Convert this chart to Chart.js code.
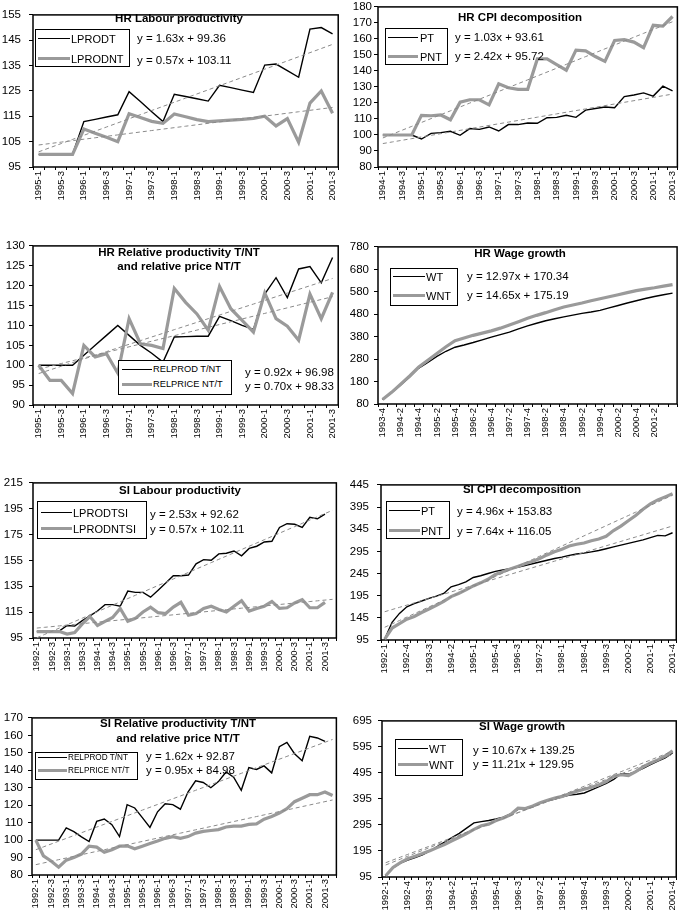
<!DOCTYPE html>
<html><head><meta charset="utf-8">
<script src="https://cdn.jsdelivr.net/npm/chart.js@4.4.1/dist/chart.umd.min.js"></script>
<style>
html,body{margin:0;padding:0;background:#fff;}
#page{position:relative;width:685px;height:917px;overflow:hidden;font-family:"Liberation Sans",Arial,sans-serif;color:#000;}
canvas{position:absolute;}
.t{position:absolute;white-space:nowrap;line-height:1;}
.ttl{font-weight:bold;font-size:11.5px;transform:translate(-50%,-50%);text-align:center;}
.eq{font-size:11.5px;transform:translateY(-50%);}
.lg{position:absolute;border:1.5px solid #000;background:#fff;box-sizing:border-box;}
.ln{position:absolute;height:0;}
</style></head><body><div id="page"></div>
<script>
// ---------- categories ----------
const q1995 = ["1995-1","1995-2","1995-3","1995-4","1996-1","1996-2","1996-3","1996-4","1997-1","1997-2","1997-3","1997-4","1998-1","1998-2","1998-3","1998-4","1999-1","1999-2","1999-3","1999-4","2000-1","2000-2","2000-3","2000-4","2001-1","2001-2","2001-3"];
const q1994 = ["1994-1","1994-2","1994-3","1994-4","1995-1","1995-2","1995-3","1995-4","1996-1","1996-2","1996-3","1996-4","1997-1","1997-2","1997-3","1997-4","1998-1","1998-2","1998-3","1998-4","1999-1","1999-2","1999-3","1999-4","2000-1","2000-2","2000-3","2000-4","2001-1","2001-2","2001-3"];
const q1993 = ["1993-4","1994-1","1994-2","1994-3","1994-4","1995-1","1995-2","1995-3","1995-4","1996-1","1996-2","1996-3","1996-4","1997-1","1997-2","1997-3","1997-4","1998-1","1998-2","1998-3","1998-4","1999-1","1999-2","1999-3","1999-4","2000-1","2000-2","2000-3","2000-4","2001-1","2001-2","2001-3","2001-4"];
const q1992 = ["1992-1","1992-2","1992-3","1992-4","1993-1","1993-2","1993-3","1993-4","1994-1","1994-2","1994-3","1994-4","1995-1","1995-2","1995-3","1995-4","1996-1","1996-2","1996-3","1996-4","1997-1","1997-2","1997-3","1997-4","1998-1","1998-2","1998-3","1998-4","1999-1","1999-2","1999-3","1999-4","2000-1","2000-2","2000-3","2000-4","2001-1","2001-2","2001-3","2001-4"];

// ---------- series ----------
const hrLPRODT  = [100,100,100,100,112.9,113.8,114.7,115.6,124.7,120.8,116.8,112.9,123.7,122.8,121.9,121,127.2,126.3,125.3,124.4,135.2,135.6,133,130.4,149.4,150,147.5];
const hrLPRODNT = [100,100,100,100,110,108.3,106.7,105,116,114.5,113,112.2,115.9,114.8,113.7,112.9,113.2,113.5,113.8,114.2,115,111.2,114.1,104.8,120.2,125,116.2];

const hrPT  = [100,100,100,100,97.5,101,101.5,102.3,99.8,104,103.5,105,102.5,106.5,106.5,107.5,107.3,110.8,111,112.3,111,115.5,116.5,117.5,117,124,125,126.3,124.3,130.5,127.5];
const hrPNT = [100,100,100,100,112.3,112,112.5,109.5,120.5,122,122,118.8,132,129.5,128.5,128.5,147.5,147.5,144,140.5,153,152.5,149,146,159,159.5,158,154.5,168.5,168,174];

const hrRELPROD  = [100,100,100,100,102.5,105,107.5,110,107.5,105,103,100.8,107.1,107.2,107.3,107.3,112.3,111.2,110,109,117.9,122,117,124.2,124.8,120.7,127.1];
const hrRELPRICE = [100,96.2,96.2,92.9,105,102.1,102.9,98,111.7,105.4,105,104.2,119.3,115.8,112.9,108.8,119.8,114.2,111.3,108.3,118.2,111.7,109.8,106.3,117.9,111.7,118.3];

const hrWT  = [100,130,165,200,240,265,292,315,333,343,354,366,378,389,400,415,428,440,451,460,468,476,484,490,497,508,519,530,540,550,559,567,574];
const hrWNT = [100,132,168,205,245,275,305,335,362,374,386,396,406,418,432,447,462,475,487,500,512,521,530,540,549,558,567,576,585,592,598,605,612];

const siLPRODT  = [100,100,100,100.5,104.7,104.2,108.4,112.1,115.9,120.8,120.8,119.6,131.3,130.3,130.3,126.6,132,137.5,143.2,143.2,143.7,152.4,155.6,155.1,160.1,160.6,162.3,158.6,164.3,166,169.3,169.8,180.5,183.4,183,180.5,188.4,187.2,190.9,null];
const siLPRODNT = [100,100,100,100,98,99.2,105.9,111.6,104.7,107.9,110.9,117.9,107.9,110.2,115.1,118.9,114.6,113.9,118.9,122.6,112.6,113.9,117.9,119.6,117.1,115.1,119.6,123.8,115.9,117.9,119.6,123.3,117.9,118.4,122.1,124.6,118.4,118.4,122.6,null];

const siPT  = [97,135,155,170,177,183,189,194,200,215,220,226,236,240,245,250,253,256,259,263,267,271,275,279,282,286,289,291,294,297,301,305,309,313,317,321,326,331,330,337];
const siPNT = [97,122,132,142,148,157,165,173,182,193,200,208,217,224,232,243,249,255,261,267,272,279,287,294,300,307,311,314,319,323,329,342,352,364,376,390,402,411,418,425];

const siRELPROD  = [100,100,100,100,107,104.8,101.8,99.2,110.7,112.1,108.8,102,120.3,118.4,112.9,107.3,116.2,120.8,120.3,117.7,127.5,134,133,130,133.5,139,136,128.5,141.5,140.5,142.5,138.5,153.5,156,149.5,145.5,159.5,158.5,156.5,null];
const siRELPRICE = [100,91,88,84.5,88.5,90,92,96.5,96,93,94.5,96.5,96.7,95,96.5,98,99.5,101,102,101,102,104,105,105.5,106,107.5,108,108,109,109.3,112,113.5,115.5,118,122,124,126,126,127.5,125.5];

const siWT  = [100,130,148,160,170,180,195,212,229,246,263,283,303,308,312,318,325,338,355,360,365,380,388,395,403,410,413,418,430,442,455,470,492,490,500,513,527,540,553,572];
const siWNT = [100,132,150,165,175,185,196,208,220,234,248,262,278,292,298,312,322,335,360,358,368,380,390,398,405,415,425,432,440,450,462,482,488,485,500,518,533,545,560,580];

// trendline equations printed on the chart: [slope, intercept]
const trendHRLab = [[1.63,99.36],[0.57,103.11]];
const trendHRCPI = [[1.03,93.61],[2.42,95.72]];
const trendHRRel = [[0.92,96.98],[0.70,98.33]];
const trendSILab = [[2.53,92.62],[0.57,102.11]];
const trendSICPI = [[4.96,153.83],[7.64,116.05]];
const trendSIRel = [[1.62,92.87],[0.95,84.98]];
const trendSIWage = [[10.67,139.25],[11.21,129.95]];

// ---------- layout / drawing ----------
const page = document.getElementById('page');
const FONT = '"Liberation Sans", Arial, sans-serif';
const frame = {id:'frame', beforeDatasetsDraw(chart){
  const a = chart.chartArea, c = chart.ctx;
  c.save(); c.strokeStyle = '#000'; c.lineWidth = 1.5;
  c.strokeRect(a.left, a.top, a.right - a.left, a.bottom - a.top); c.restore();
}};

function txt(cls, x, y, s, extra){
  const d = document.createElement('div');
  d.className = 't ' + cls; d.style.left = x + 'px'; d.style.top = y + 'px';
  d.innerHTML = s; if (extra) Object.assign(d.style, extra);
  page.appendChild(d);
}
function legend(p){
  const L = p.leg;
  const b = document.createElement('div'); b.className = 'lg';
  Object.assign(b.style, {left:L.box[0]+'px', top:L.box[1]+'px', width:(L.box[2]-L.box[0])+'px', height:(L.box[3]-L.box[1])+'px'});
  page.appendChild(b);
  const styles = [{c:'#000', w:1.4},{c:'#9a9a9a', w:3.4}];
  p.names.forEach((n,k)=>{
    const y = L.rows[k];
    const ln = document.createElement('div'); ln.className = 'ln';
    Object.assign(ln.style, {left:L.lx[0]+'px', width:(L.lx[1]-L.lx[0])+'px', top:(y - styles[k].w/2)+'px', borderTop: styles[k].w+'px solid '+styles[k].c});
    page.appendChild(ln);
    txt('', L.tx, y, n, {fontSize:L.fs+'px', transform:'translateY(-50%)'});
  });
}

function mk(p){
  const colLeft = p.col ? 343 : 0, colW = p.col ? 342 : 345;
  const top = p.plotTop - 7;
  const h = Math.min(917, p.plotBottom + 40) - top;
  const cv = document.createElement('canvas');
  cv.width = colW; cv.height = h;
  cv.style.left = colLeft + 'px'; cv.style.top = top + 'px';
  page.appendChild(cv);
  const ds = [
    {data:p.black, borderColor:'#000', borderWidth:1.4, order:2},
    {data:p.gray, borderColor:'#9a9a9a', borderWidth:3.2, order:1}
  ];
  (p.trend || []).forEach(t => ds.push({data:p.labels.map((_,i)=> t[0]*(i+1) + t[1]), borderColor:'#8a8a8a', borderWidth:1, borderDash:[4,3], order:0}));
  ds.forEach(d => Object.assign(d, {pointRadius:0, tension:0, fill:false}));
  new Chart(cv, {
    type:'line',
    data:{labels:p.labels, datasets:ds},
    plugins:[frame],
    options:{
      responsive:false, animation:false, devicePixelRatio:1,
      layout:{padding:{top:7, right:(colLeft+colW) - p.plotRight, left:0, bottom:0}},
      plugins:{legend:{display:false}, tooltip:{enabled:false}, title:{display:false}},
      scales:{
        x:{type:'category', offset:true,
           grid:{display:true, drawOnChartArea:false, offset:true, tickLength:3, color:'#000', lineWidth:1},
           border:{display:false},
           ticks:{autoSkip:false, maxRotation:90, minRotation:90, padding:1, color:'#000', font:{family:FONT, size:9.5},
             callback:function(v,i){ return (i % p.every === 0 && i <= p.lastLabel) ? this.getLabelForValue(v) : ''; }},
           afterFit(s){ s.height = 40; }},
        y:{min:p.ymin, max:p.ymax,
           ticks:{stepSize:p.step, autoSkip:false, padding:p.ypad, color:'#000', font:{family:FONT, size:11.5}},
           grid:{display:true, drawOnChartArea:false, tickLength:4, color:'#000', lineWidth:1},
           border:{display:false},
           afterFit(s){ s.width = p.plotLeft - colLeft; }}
      }
    }
  });
  p.title.forEach(t => txt('ttl', t[0], t[1], t[2]));
  legend(p);
  p.eqs.forEach((e,k) => txt('eq', p.eqX, p.eqY[k], e));
}

const panels = [
  {col:0, plotLeft:33, plotRight:343, plotTop:7, plotBottom:167, labels:q1995, black:hrLPRODT, gray:hrLPRODNT, trend:trendHRLab,
   ymin:95, ymax:155, step:10, ypad:8, every:2, lastLabel:99,
   title:[[179,19,'HR Labour productivity']], names:['LPRODT','LPRODNT'],
   leg:{box:[35,29,130,67], lx:[38,70], tx:71, rows:[39,59], fs:11},
   eqs:['y = 1.63x + 99.36','y = 0.57x + 103.11'], eqX:137, eqY:[39,61]},
  {col:1, plotLeft:378, plotRight:682, plotTop:5, plotBottom:167, labels:q1994, black:hrPT, gray:hrPNT, trend:trendHRCPI,
   ymin:80, ymax:180, step:10, ypad:2, every:2, lastLabel:99,
   title:[[520,18,'HR CPI decomposition']], names:['PT','PNT'],
   leg:{box:[385,28,448,65], lx:[388,418], tx:420, rows:[38,57], fs:11},
   eqs:['y = 1.03x + 93.61','y = 2.42x + 95.72'], eqX:455, eqY:[38,57]},
  {col:0, plotLeft:33, plotRight:343, plotTop:242, plotBottom:405, labels:q1995, black:hrRELPROD, gray:hrRELPRICE, trend:trendHRRel,
   ymin:90, ymax:130, step:5, ypad:4, every:2, lastLabel:99,
   title:[[179,253,'HR Relative productivity T/NT'],[179,267,'and relative price NT/T']], names:['RELPROD T/NT','RELPRICE NT/T'],
   leg:{box:[118,360,232,395], lx:[122,152], tx:153, rows:[370,385], fs:9.3},
   eqs:['y = 0.92x + 96.98','y = 0.70x + 98.33'], eqX:245, eqY:[373,387]},
  {col:1, plotLeft:378, plotRight:682, plotTop:242, plotBottom:404, labels:q1993, black:hrWT, gray:hrWNT, trend:null,
   ymin:80, ymax:780, step:100, ypad:5, every:2, lastLabel:31,
   title:[[520,254,'HR Wage growth']], names:['WT','WNT'],
   leg:{box:[390,268,458,306], lx:[393,425], tx:426, rows:[277,296], fs:11},
   eqs:['y = 12.97x + 170.34','y = 14.65x + 175.19'], eqX:467, eqY:[277,296]},
  {col:0, plotLeft:33, plotRight:343, plotTop:477, plotBottom:638, labels:q1992, black:siLPRODT, gray:siLPRODNT, trend:trendSILab,
   ymin:95, ymax:215, step:20, ypad:6, every:2, lastLabel:99,
   title:[[180,491,'SI Labour productivity']], names:['LPRODTSI','LPRODNTSI'],
   leg:{box:[37,501,147,539], lx:[41,72], tx:73, rows:[513,529], fs:11},
   eqs:['y = 2.53x + 92.62','y = 0.57x + 102.11'], eqX:150, eqY:[515,530]},
  {col:1, plotLeft:381, plotRight:682, plotTop:477, plotBottom:640, labels:q1992, black:siPT, gray:siPNT, trend:trendSICPI,
   ymin:95, ymax:445, step:50, ypad:8, every:3, lastLabel:99,
   title:[[522,490,'SI CPI decomposition']], names:['PT','PNT'],
   leg:{box:[386,501,450,539], lx:[389,420], tx:421, rows:[511,531], fs:11},
   eqs:['y = 4.96x + 153.83','y = 7.64x + 116.05'], eqX:457, eqY:[512,532]},
  {col:0, plotLeft:32, plotRight:343, plotTop:713, plotBottom:875, labels:q1992, black:siRELPROD, gray:siRELPRICE, trend:trendSIRel,
   ymin:80, ymax:170, step:10, ypad:5, every:2, lastLabel:99,
   title:[[178,724,'SI Relative productivity T/NT'],[178,739,'and relative price NT/T']], names:['RELPROD T/NT','RELPRICE NT/T'],
   leg:{box:[35,752,138,780], lx:[38,67], tx:68, rows:[758,771], fs:8.2},
   eqs:['y = 1.62x + 92.87','y = 0.95x + 84.98'], eqX:146, eqY:[757,771]},
  {col:1, plotLeft:382, plotRight:682, plotTop:715, plotBottom:877, labels:q1992, black:siWT, gray:siWNT, trend:trendSIWage,
   ymin:95, ymax:695, step:100, ypad:6, every:3, lastLabel:99,
   title:[[522,727,'SI Wage growth']], names:['WT','WNT'],
   leg:{box:[395,739,463,776], lx:[398,428], tx:429, rows:[749,765], fs:11},
   eqs:['y = 10.67x + 139.25','y = 11.21x + 129.95'], eqX:473, eqY:[751,765]}
];
panels.forEach(mk);
</script>
</body></html>
